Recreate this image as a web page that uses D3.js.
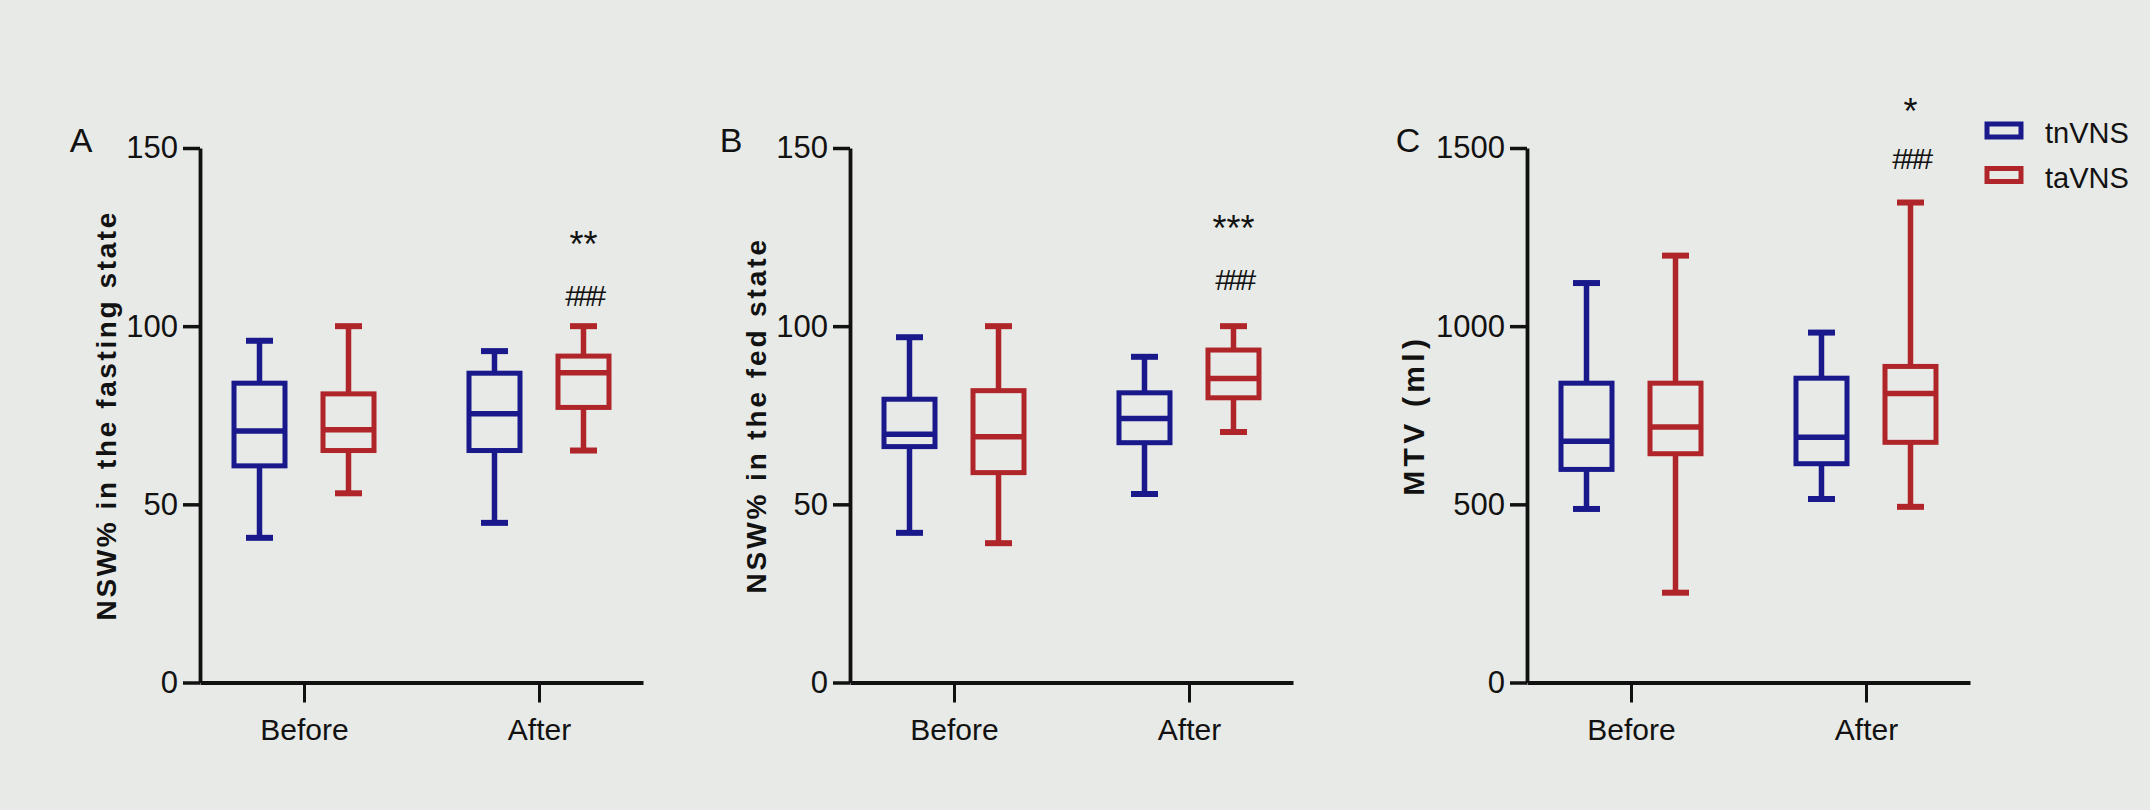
<!DOCTYPE html>
<html>
<head>
<meta charset="utf-8">
<script src="https://cdn.jsdelivr.net/npm/d3@7"></script>
<style>
  html, body { margin: 0; padding: 0; background: #e8eae7; }
  svg { display: block; }
  text { fill: #121212; }
</style>
</head>
<body>
<script>
// Groups and time points
const categories = ["Before", "After"];
const groups = ["tnVNS", "taVNS"];

// Five-number summaries per time point: [min, Q1, median, Q3, max]
const fastingTnVNS = [[40.6, 60.8, 70.6, 84.0, 95.9], [44.8, 65.1, 75.4, 86.8, 93.0]];
const fastingTaVNS = [[53.1, 65.1, 70.9, 81.0, 100], [65.1, 77.2, 86.9, 91.6, 100]];
const fedTnVNS = [[42.0, 66.2, 69.7, 79.5, 96.9], [52.9, 67.3, 74.1, 81.3, 91.4]];
const fedTaVNS = [[39.1, 58.9, 69.0, 81.9, 100], [70.3, 79.9, 85.3, 93.3, 100]];
const mtvTnVNS = [[487, 598, 677, 840, 1121], [515, 614, 688, 854, 982]];
const mtvTaVNS = [[252, 642, 717, 840, 1198], [493, 674, 811, 887, 1347]];

// Axis ticks
const nswTicks = [0, 50, 100, 150];
const mtvTicks = [0, 500, 1000, 1500];

// Significance marks above the taVNS "After" box
const fastingMarks = ["**", "###"];
const fedMarks = ["***", "###"];
const mtvMarks = ["*", "###"];

const colors = { tnVNS: "#19198c", taVNS: "#b0252a" };

const W = 2150, H = 810;
const plotTop = 148, plotBottom = 682.5, plotWidth = 443;

const panels = [
  { letter: "A", title: "NSW% in the fasting state", series: [fastingTnVNS, fastingTaVNS],
    ticks: nswTicks, left: 200, titleOffset: 84, titleSize: 28, spacing: 2.6,
    marks: fastingMarks, markLevels: [125.2, 108.7] },
  { letter: "B", title: "NSW% in the fed state", series: [fedTnVNS, fedTaVNS],
    ticks: nswTicks, left: 850, titleOffset: 84, titleSize: 28, spacing: 2.9,
    marks: fedMarks, markLevels: [129.6, 113.2] },
  { letter: "C", title: "MTV (ml)", series: [mtvTnVNS, mtvTaVNS],
    ticks: mtvTicks, left: 1527, titleOffset: 103, titleSize: 30, spacing: 4.3,
    marks: mtvMarks, markLevels: [1625, 1471] }
];

const svg = d3.select("body").append("svg").attr("width", W).attr("height", H);
svg.append("rect").attr("width", W).attr("height", H).attr("fill", "#e8eae7");

const tickFont = "'Liberation Sans Narrow', 'Arial Narrow', 'Liberation Sans', Arial, sans-serif";
const mainFont = "'Liberation Sans', Arial, sans-serif";

panels.forEach(p => {
  const g = svg.append("g");
  const yMax = p.ticks[p.ticks.length - 1];
  const y = d3.scaleLinear().domain([0, yMax]).range([plotBottom, plotTop]);
  const x = d3.scalePoint().domain(categories).range([p.left, p.left + plotWidth]).padding(0.4426);
  const inner = d3.scaleBand().domain(groups).range([-89, 89]);

  // y axis
  const yAxis = g.append("g")
    .attr("transform", `translate(${p.left},0)`)
    .call(d3.axisLeft(y).tickValues(p.ticks).tickSize(17).tickSizeOuter(0).tickPadding(5).tickFormat(d3.format("d")));
  yAxis.select(".domain").attr("stroke", "#111").attr("stroke-width", 3.8);
  yAxis.selectAll(".tick line").attr("stroke", "#111").attr("stroke-width", 3.5);
  yAxis.selectAll(".tick text").attr("font-family", tickFont).attr("font-size", 31).attr("fill", "#161616");

  // x axis
  const xAxis = g.append("g")
    .attr("transform", `translate(0,${plotBottom})`)
    .call(d3.axisBottom(x).tickSize(20).tickSizeOuter(0).tickPadding(16));
  xAxis.select(".domain").attr("stroke", "#111").attr("stroke-width", 3.8);
  xAxis.selectAll(".tick line").attr("stroke", "#111").attr("stroke-width", 3);
  xAxis.selectAll(".tick text").attr("font-family", mainFont).attr("font-size", 30).attr("fill", "#141414");

  // y axis title
  g.append("text")
    .attr("transform", `translate(${p.left - p.titleOffset},${(plotTop + plotBottom) / 2}) rotate(-90)`)
    .attr("text-anchor", "middle")
    .attr("font-family", mainFont).attr("font-weight", "bold")
    .attr("font-size", p.titleSize).attr("letter-spacing", p.spacing)
    .text(p.title);

  // panel letter
  g.append("text")
    .attr("x", p.left - 119).attr("y", 152)
    .attr("text-anchor", "middle")
    .attr("font-family", mainFont).attr("font-size", 34)
    .text(p.letter);

  // box plots
  categories.forEach((cat, ci) => {
    groups.forEach((grp, gi) => {
      const [mn, q1, med, q3, mx] = p.series[gi][ci];
      const cx = x(cat) + inner(grp) + inner.bandwidth() / 2;
      const bw = 51, cap = 27;
      const c = colors[grp];
      const box = g.append("g").attr("stroke", c).attr("fill", "none");
      box.append("line").attr("x1", cx).attr("x2", cx).attr("y1", y(q3)).attr("y2", y(mx)).attr("stroke-width", 5.5);
      box.append("line").attr("x1", cx).attr("x2", cx).attr("y1", y(q1)).attr("y2", y(mn)).attr("stroke-width", 5.5);
      box.append("line").attr("x1", cx - cap / 2).attr("x2", cx + cap / 2).attr("y1", y(mx)).attr("y2", y(mx)).attr("stroke-width", 6);
      box.append("line").attr("x1", cx - cap / 2).attr("x2", cx + cap / 2).attr("y1", y(mn)).attr("y2", y(mn)).attr("stroke-width", 6);
      box.append("rect").attr("x", cx - bw / 2).attr("width", bw)
        .attr("y", y(q3)).attr("height", y(q1) - y(q3)).attr("stroke-width", 5);
      box.append("line").attr("x1", cx - bw / 2).attr("x2", cx + bw / 2).attr("y1", y(med)).attr("y2", y(med)).attr("stroke-width", 5.5);
    });
  });

  // significance marks, centred on the taVNS "After" box
  const mx = x("After") + inner("taVNS") + inner.bandwidth() / 2;
  p.marks.forEach((m, i) => {
    const star = m[0] === "*";
    const fs = star ? 36 : 30;
    g.append("text")
      .attr("x", mx).attr("y", y(p.markLevels[i]) + (star ? 0.57 : 0.36) * fs)
      .attr("text-anchor", "middle")
      .attr("font-family", mainFont).attr("font-size", fs)
      .attr("letter-spacing", star ? 0 : -4.5)
      .text(m);
  });
});

// legend
const legend = svg.append("g").attr("transform", "translate(1987,124)");
groups.forEach((grp, i) => {
  const row = legend.append("g").attr("transform", `translate(0,${i * 44.5})`);
  row.append("rect").attr("width", 34).attr("height", 13).attr("fill", "none")
    .attr("stroke", colors[grp]).attr("stroke-width", 5);
  row.append("text").attr("x", 58).attr("y", 19)
    .attr("font-family", mainFont).attr("font-size", 29).attr("fill", "#222")
    .text(grp);
});
</script>
</body>
</html>
